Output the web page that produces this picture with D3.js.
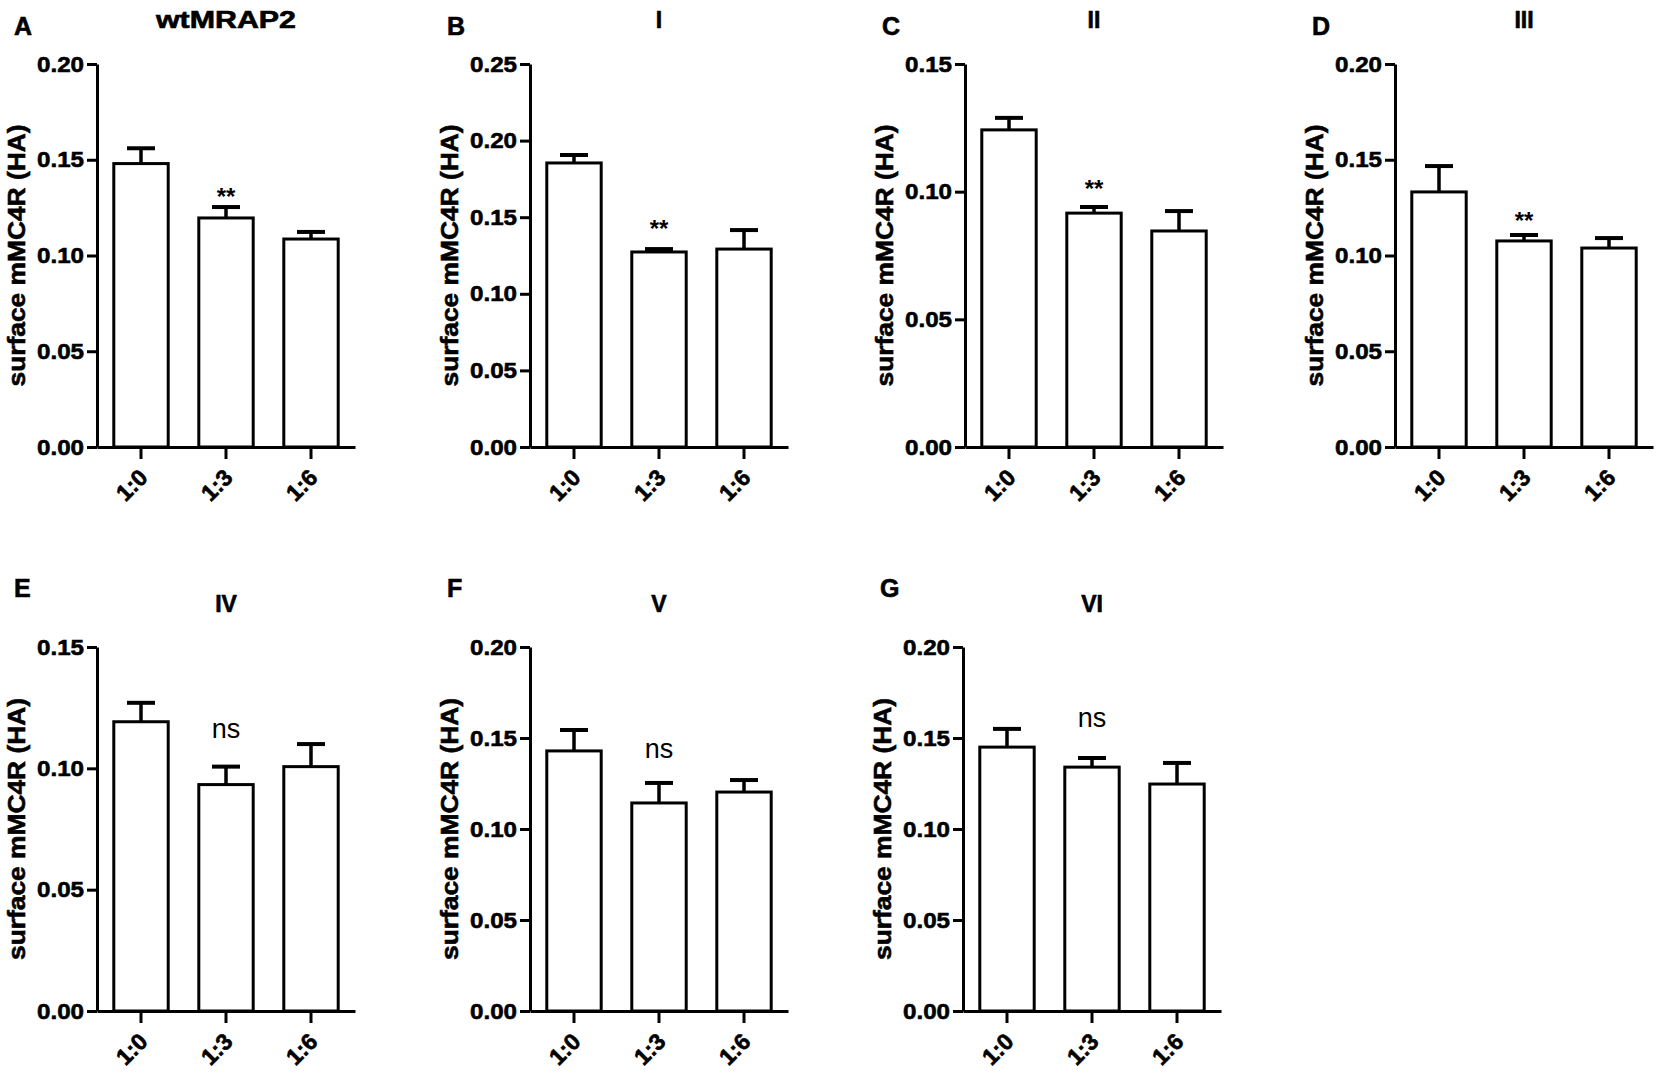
<!DOCTYPE html>
<html>
<head>
<meta charset="utf-8">
<script src="https://cdn.jsdelivr.net/npm/d3@7"></script>
<style>
  html, body { margin: 0; padding: 0; background: #fff; }
  svg { display: block; }
  text { font-family: "Liberation Sans", Arial, Helvetica, sans-serif; fill: #000; }
  text.heavy { stroke: #000; stroke-width: 0.6px; }
</style>
</head>
<body>
<svg id="chart" width="1658" height="1090"></svg>
<script>
// ---------------- data ----------------
const categories = ["1:0", "1:3", "1:6"];
const panelLetters = ["A", "B", "C", "D", "E", "F", "G"];
const panelTitles = ["wtMRAP2", "I", "II", "III", "IV", "V", "VI"];
const yLabel = "surface mMC4R (HA)";
const yMaxima = [0.20, 0.25, 0.15, 0.20, 0.15, 0.20, 0.20];

const meansA = [0.148, 0.1196, 0.1086];
const meansB = [0.1854, 0.1273, 0.1292];
const meansC = [0.1242, 0.0916, 0.0846];
const meansD = [0.1332, 0.1076, 0.1039];
const meansE = [0.1192, 0.0933, 0.1007];
const meansF = [0.1429, 0.1143, 0.1203];
const meansG = [0.145, 0.134, 0.1247];

const semA = [0.008, 0.0057, 0.0037];
const semB = [0.0052, 0.0019, 0.0124];
const semC = [0.0047, 0.0024, 0.0078];
const semD = [0.0135, 0.0031, 0.0052];
const semE = [0.0078, 0.0074, 0.0093];
const semF = [0.0115, 0.011, 0.0066];
const semG = [0.010, 0.005, 0.0116];

const statLabels = ["**", "**", "**", "**", "ns", "ns", "ns"];
const statValues = [0.1264, 0.1371, 0.0979, 0.1138, 0.1126, 0.139, 0.156]; // label baseline, in data units
const tickStep = 0.05;

const allMeans = [meansA, meansB, meansC, meansD, meansE, meansF, meansG];
const allSem = [semA, semB, semC, semD, semE, semF, semG];

// ---------------- layout ----------------
const axisXs = [97, 530, 965, 1395, 97, 530, 963];
const rows = [{ top: 64, bottom: 447 }, { top: 647, bottom: 1011 }];
const panelRow = [0, 0, 0, 0, 1, 1, 1];
const axisLen = 258;

const svg = d3.select("#chart");

panelTitles.forEach((title, i) => {
  const ax = axisXs[i];
  const row = rows[panelRow[i]];
  const g = svg.append("g");

  const x = d3.scaleBand().domain(categories)
    .range([ax, ax + axisLen]).paddingInner(0.36).paddingOuter(0.1976);
  const y = d3.scaleLinear().domain([0, yMaxima[i]]).range([row.bottom, row.top]);
  const bw = x.bandwidth();

  const data = categories.map((c, k) => ({ c, v: allMeans[i][k], e: allSem[i][k] }));

  // bars
  g.selectAll("rect.bar").data(data).join("rect")
    .attr("class", "bar")
    .attr("x", d => x(d.c))
    .attr("width", bw)
    .attr("y", d => y(d.v))
    .attr("height", d => y(0) - y(d.v))
    .attr("fill", "#fff")
    .attr("stroke", "#000")
    .attr("stroke-width", 3);

  // error bars (upper only)
  g.selectAll("line.err").data(data).join("line")
    .attr("class", "err")
    .attr("x1", d => x(d.c) + bw / 2).attr("x2", d => x(d.c) + bw / 2)
    .attr("y1", d => y(d.v)).attr("y2", d => y(d.v + d.e))
    .attr("stroke", "#000").attr("stroke-width", 3.5);
  g.selectAll("line.cap").data(data).join("line")
    .attr("class", "cap")
    .attr("x1", d => x(d.c) + bw / 2 - 14).attr("x2", d => x(d.c) + bw / 2 + 14)
    .attr("y1", d => y(d.v + d.e)).attr("y2", d => y(d.v + d.e))
    .attr("stroke", "#000").attr("stroke-width", 4);

  // y axis
  const yAxis = d3.axisLeft(y)
    .tickValues(d3.range(0, yMaxima[i] + 1e-9, tickStep))
    .tickFormat(d3.format(".2f"))
    .tickSize(10).tickSizeOuter(0).tickPadding(3);
  const ya = g.append("g").attr("transform", `translate(${ax},0)`).call(yAxis);
  ya.select(".domain").attr("stroke-width", 3);
  ya.selectAll(".tick line").attr("stroke-width", 3);
  ya.selectAll(".tick text")
    .attr("class", "heavy")
    .attr("font-size", 22).attr("font-weight", "bold")
    .attr("font-family", "Liberation Sans, Arial, sans-serif")
    .attr("textLength", 47).attr("lengthAdjust", "spacingAndGlyphs");

  // x axis
  const xAxis = d3.axisBottom(x).tickSize(12).tickSizeOuter(0).tickFormat("");
  const xa = g.append("g").attr("transform", `translate(0,${row.bottom})`).call(xAxis);
  xa.select(".domain").attr("stroke-width", 3);
  xa.selectAll(".tick line").attr("stroke-width", 3);

  // rotated category labels
  g.selectAll("text.xlab").data(categories).join("text")
    .attr("class", "xlab heavy")
    .attr("transform", c => `translate(${x(c) + bw / 2 + 8},${row.bottom + 32}) rotate(-45)`)
    .attr("text-anchor", "end")
    .attr("font-size", 23).attr("font-weight", "bold")
    .text(c => c);

  // y axis title
  g.append("text")
    .attr("class", "heavy")
    .attr("transform", `translate(${ax - 72},${(row.top + row.bottom) / 2}) rotate(-90)`)
    .attr("text-anchor", "middle")
    .attr("font-size", 24).attr("font-weight", "bold")
    .attr("textLength", 262).attr("lengthAdjust", "spacingAndGlyphs")
    .text(yLabel);

  // panel title
  const t = g.append("text")
    .attr("class", "heavy")
    .attr("x", ax + 129)
    .attr("y", panelRow[i] === 0 ? 28 : 612)
    .attr("text-anchor", "middle")
    .attr("font-size", 23).attr("font-weight", "bold")
    .text(title);
  if (title === "wtMRAP2") t.attr("textLength", 140).attr("lengthAdjust", "spacingAndGlyphs");

  // panel letter
  g.append("text")
    .attr("class", "heavy")
    .attr("x", ax - 83)
    .attr("y", panelRow[i] === 0 ? 35 : 597)
    .attr("font-size", 25).attr("font-weight", "bold")
    .text(panelLetters[i]);

  // significance label above 1:3
  const isStar = statLabels[i] === "**";
  g.append("text")
    .attr("x", x(categories[1]) + bw / 2)
    .attr("y", y(statValues[i]))
    .attr("text-anchor", "middle")
    .attr("font-size", isStar ? 24 : 27)
    .attr("font-weight", isStar ? "bold" : "normal")
    .text(statLabels[i]);
});
</script>
</body>
</html>
